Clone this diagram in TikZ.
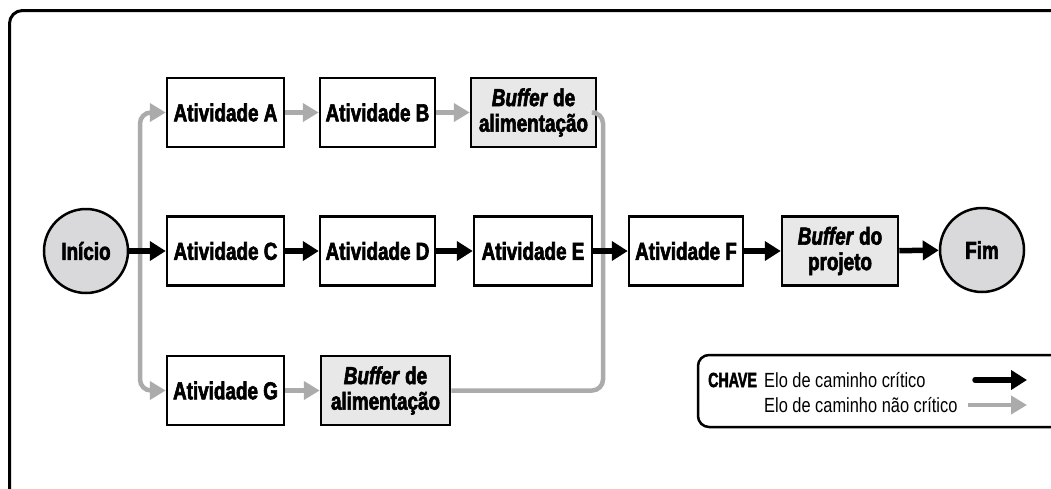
\documentclass[tikz,border=0pt]{standalone}
\usepackage{fontspec}
\setmainfont{Liberation Sans}[FakeStretch=0.8,
  BoldFeatures={FakeStretch=0.77,FakeBold=2.5},
  BoldItalicFeatures={FakeStretch=0.77,FakeBold=2.5}]
\usetikzlibrary{arrows.meta}
\definecolor{feedgray}{HTML}{ABABAB}
\definecolor{buffill}{HTML}{E8E8E8}
\definecolor{circfill}{HTML}{D9D9DB}
\begin{document}
\begin{tikzpicture}[x=1pt,y=-1pt,
  actbox/.style={draw=black,line width=2.5pt,fill=white,inner sep=0pt,minimum height=69pt,align=center,
    font=\fontsize{24.5}{25.5}\selectfont\bfseries},
  bufbox/.style={actbox,fill=buffill},
  endcirc/.style={circle,draw=black,line width=2.5pt,fill=circfill,inner sep=0pt,minimum size=84pt,
    font=\fontsize{24.5}{25.5}\selectfont\bfseries},
  crit/.style={draw=black,line width=5.5pt,-{Triangle[length=16pt,width=19pt]}},
  noncrit/.style={draw=feedgray,line width=4.5pt,-{Triangle[length=16pt,width=18pt]}},
  feedline/.style={draw=feedgray,line width=4.5pt,rounded corners=11pt},
  legtext/.style={anchor=west,inner sep=0pt,font=\fontsize{20.5}{22}\selectfont}
]
\useasboundingbox (0,0) rectangle (1051,488);
\clip (0,0) rectangle (1051,488);
% outer frame
\draw[line width=3pt,rounded corners=13pt] (9.5,10.5) rectangle (1080,520);

% nodes
\node[endcirc] (ini) at (86,251) {Início};
\node[actbox,minimum width=117pt] (A) at (225.5,112.5) {Atividade A};
\node[actbox,minimum width=115pt] (B) at (377.5,112.5) {Atividade B};
\node[bufbox,minimum width=125pt] (buf1) at (533.5,112.5) {\textit{Buffer} de\\alimentação};
\node[actbox,minimum width=117pt] (C) at (225.5,251) {Atividade C};
\node[actbox,minimum width=115pt] (D) at (377.5,251) {Atividade D};
\node[actbox,minimum width=118pt] (E) at (533,251) {Atividade E};
\node[actbox,minimum width=114pt] (F) at (686,251) {Atividade F};
\node[bufbox,minimum width=116pt] (proj) at (840,251) {\textit{Buffer} do\\projeto};
\node[endcirc] (fim) at (982,250) {Fim};
\node[actbox,minimum width=117pt] (G) at (225.5,390.5) {Atividade G};
\node[bufbox,minimum width=129pt] (buf2) at (385.5,390.5) {\textit{Buffer} de\\alimentação};

\coordinate (ls) at (140,251);
\coordinate (rs) at (603,251);

% non-critical links
\draw[noncrit,rounded corners=11pt] (ls) |- (A.west);
\draw[noncrit,rounded corners=11pt] (ls) |- (G.west);
\draw[noncrit] (A) -- (B);
\draw[noncrit] (B) -- (buf1);
\draw[noncrit] (G) -- (buf2);
\draw[feedline] (buf1.east) -| (rs) |- (buf2.east);

% critical links
\draw[crit] (ini) -- (C);
\draw[crit] (C) -- (D);
\draw[crit] (D) -- (E);
\draw[crit] (E) -- (F);
\draw[crit] (F) -- (proj);
\draw[crit] (proj) -- (fim);

% legend
\draw[line width=2.5pt,rounded corners=11pt] (698,355) rectangle (1080,427);
\node[legtext,font=\fontsize{20.5}{22}\selectfont\bfseries] (chave) at (708,380) {\scalebox{0.9}[1]{CHAVE}};
\node[legtext] (l1) at (764,380) {Elo de caminho crítico};
\node[legtext] (l2) at (764,405) {Elo de caminho não crítico};
\coordinate (k1a) at (975,380);
\coordinate (k1b) at (1027,380);
\coordinate (k2a) at (968,405);
\coordinate (k2b) at (1027,405);
\draw[crit,line cap=round] (k1a) -- (k1b);
\draw[noncrit] (k2a) -- (k2b);
\end{tikzpicture}
\end{document}
